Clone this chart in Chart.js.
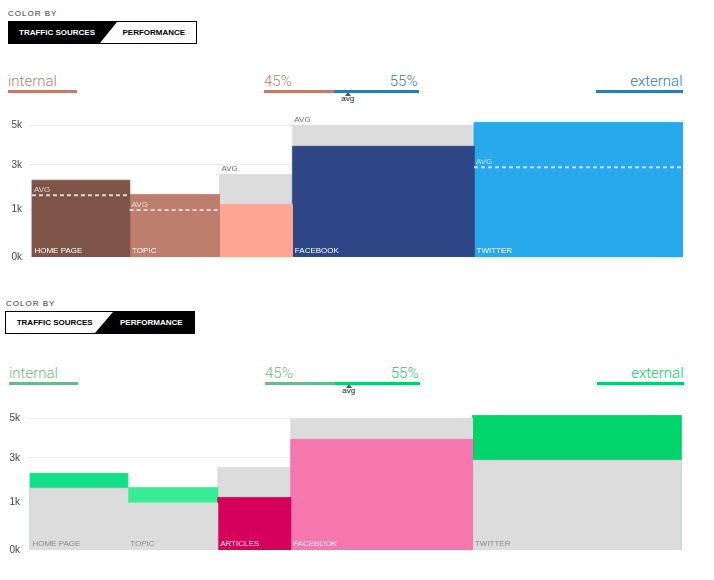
<!DOCTYPE html>
<html>
<head>
<meta charset="utf-8">
<script src="https://cdn.jsdelivr.net/npm/chart.js@4.4.1/dist/chart.umd.min.js"></script>
<style>
html,body{margin:0;padding:0;background:#fff;}
body{position:relative;width:714px;height:580px;overflow:hidden;font-family:"Liberation Sans",Arial,Helvetica,sans-serif;}
.t{position:absolute;white-space:nowrap;line-height:1;}
.colorby{letter-spacing:1px;}
.opt{font-weight:bold;}
.big{font-family:Roboto,"Liberation Sans",Arial,sans-serif;font-weight:300;}
.toggle{position:absolute;border:1px solid #000;box-sizing:border-box;background:#fff;overflow:hidden;}
.toggle .fill{position:absolute;left:0;top:0;right:0;bottom:0;background:#000;}
.rule{position:absolute;height:3px;}
.tri{position:absolute;width:0;height:0;border-left:3px solid transparent;border-right:3px solid transparent;border-bottom:4px solid #555;}
canvas{position:absolute;}
</style>
</head>
<body>
<script>
// ---------------- DATA ----------------
const categories = ['HOME PAGE', 'TOPIC', 'ARTICLES', 'FACEBOOK', 'TWITTER'];
const trafficShare = [15.0, 13.8, 11.2, 27.9, 32.1];      // share of traffic (bar widths, %)
const visitors = [2920, 2380, 2000, 4210, 5120];          // bar values
const averages = [2350, 1790, 3140, 5010, 3410];          // average values
const yTickValues = [0, 1800, 3500, 5000];
const yTickLabels = ['0k', '1k', '3k', '5k'];
const sourceLabels = ['internal', 'external'];
const sourceShares = [45, 55];
const avgInternalShare = 54;
const toggleLabels = ['TRAFFIC SOURCES', 'PERFORMANCE'];
const trafficLabelShown = [true, true, false, true, true];

// ---------------- STYLE ----------------
const trafficColors = ['#7e5449', '#be7e6e', '#ffa692', '#2e4686', '#27a7ec'];
const performanceColors = ['#14df86', '#38ec96', '#d5005c', '#f677ae', '#00d46b'];
const GRAY = '#dcdcdc';
const DASH = '#d9d9d9';
const PX_PER_UNIT = 0.0263;
const X_MIN = -0.3;

function addText(txt, cls, pos, baseline, fs, color) {
  const d = document.createElement('div');
  d.className = 't ' + cls;
  d.textContent = txt;
  d.style.fontSize = fs + 'px';
  d.style.top = (baseline - 0.846 * fs) + 'px';
  d.style.color = color;
  if (pos.left !== undefined) d.style.left = pos.left + 'px';
  if (pos.right !== undefined) d.style.right = (714 - pos.right) + 'px';
  if (pos.center !== undefined) { d.style.left = pos.center + 'px'; d.style.transform = 'translateX(-50%)'; }
  document.body.appendChild(d);
  return d;
}
function addRule(left, top, width, color) {
  const d = document.createElement('div');
  d.className = 'rule';
  d.style.left = left + 'px'; d.style.top = top + 'px'; d.style.width = width + 'px'; d.style.background = color;
  document.body.appendChild(d);
}
function addToggle(left, top, width, clip) {
  const b = document.createElement('div');
  b.className = 'toggle';
  b.style.left = left + 'px'; b.style.top = top + 'px'; b.style.width = width + 'px'; b.style.height = '23px';
  const f = document.createElement('div');
  f.className = 'fill';
  f.style.clipPath = clip;
  b.appendChild(f);
  document.body.appendChild(b);
}

function buildHeader(p) {
  addText('COLOR BY', 'colorby', {left: p.colorByX}, p.colorByBase, 8, '#333');
  addToggle(p.boxX, p.boxY, p.boxW, p.clip);
  addText(toggleLabels[0], 'opt', {left: p.opt0X}, p.optBase, 8, p.active === 0 ? '#fff' : '#000');
  addText(toggleLabels[1], 'opt', {left: p.opt1X}, p.optBase + 0.4, 8, p.active === 1 ? '#fff' : '#000');
}

function buildLegend(dx, dy, cInt, cExt) {
  addText(sourceLabels[0], 'big', {left: 8 + dx}, 87 + dy, 15, cInt);
  addRule(8 + dx, 89.5 + dy, 69, cInt);
  const barL = 264 + dx, barW = 155;
  const w0 = barW * sourceShares[0] / 100;
  addText(sourceShares[0] + '%', 'big', {left: barL}, 86.5 + dy, 15, cInt);
  addText(sourceShares[1] + '%', 'big', {right: barL + barW - 1.5}, 86.5 + dy, 15, cExt);
  addRule(barL, 89.5 + dy, w0, cInt);
  addRule(barL + w0, 89.5 + dy, barW - w0, cExt);
  const tri = document.createElement('div');
  tri.className = 'tri';
  tri.style.left = (barL + barW * avgInternalShare / 100 - 3) + 'px';
  tri.style.top = (91.5 + dy) + 'px';
  document.body.appendChild(tri);
  addText('avg', '', {center: barL + barW * avgInternalShare / 100}, 101.3 + dy, 8, '#222');
  addText(sourceLabels[1], 'big', {right: 682.5 + dx}, 87 + dy, 15, cExt);
  addRule(596 + dx, 89.5 + dy, 87, cExt);
}

// ---------------- CHARTS ----------------
const barLabels = {
  id: 'barLabels',
  afterDatasetsDraw(chart, args, opts) {
    const ctx = chart.ctx, xs = chart.scales.x, ys = chart.scales.y;
    const base = ys.getPixelForValue(0);
    ctx.save();
    ctx.font = '8px "Liberation Sans", Arial, sans-serif';
    ctx.textAlign = 'left';
    ctx.textBaseline = 'alphabetic';
    let cum = 0;
    categories.forEach((cat, i) => {
      const px0 = xs.getPixelForValue(cum);
      cum += trafficShare[i];
      const v = visitors[i], a = averages[i];
      if (opts.mode === 'traffic') {
        ctx.fillStyle = a > v ? '#6e6e6e' : 'rgba(255,255,255,0.72)';
        ctx.fillText('AVG', px0 + 2, ys.getPixelForValue(a) - 3.3);
        if (trafficLabelShown[i]) {
          ctx.fillStyle = '#ffffff';
          ctx.fillText(cat, px0 + 2.5, base - 4);
        }
      } else {
        ctx.fillStyle = v > a ? '#8a8a8a' : 'rgba(255,255,255,0.95)';
        ctx.fillText(cat, px0 + 2.5, base - 4);
      }
    });
    ctx.restore();
  }
};

// a filled bar: outline (x0,0)-(x0,v)-(x1,v)-(x1,0), filled to the origin
function rect(x0, x1, v, color, order) {
  return {type: 'line', data: [{x: x0, y: 0}, {x: x0, y: v}, {x: x1, y: v}, {x: x1, y: 0}],
    backgroundColor: color, borderColor: color, borderWidth: 0.8, borderCapStyle: 'butt',
    pointRadius: 0, pointHoverRadius: 0, fill: 'origin', order: order, tension: 0};
}
function dash(x0, x1, v, color, order) {
  return {type: 'line', data: [{x: x0, y: v}, {x: x1, y: v}], borderColor: color,
    borderWidth: 2, borderDash: [4, 3], borderCapStyle: 'butt', pointRadius: 0, pointHoverRadius: 0,
    fill: false, order: order, tension: 0};
}

function makeChart(mode, left, base) {
  const c = document.createElement('canvas');
  c.width = 684; c.height = 182;
  c.style.left = left + 'px'; c.style.top = '0px';
  document.body.appendChild(c);
  const datasets = [];
  let cum = 0;
  categories.forEach((cat, i) => {
    const x0 = cum, x1 = cum + trafficShare[i];
    cum = x1;
    const v = visitors[i], a = averages[i];
    if (mode === 'traffic') {
      const col = trafficColors[i];
      if (a > v) { datasets.push(rect(x0, x1, a, GRAY, 3)); datasets.push(rect(x0, x1, v, col, 2)); }
      else { datasets.push(rect(x0, x1, v, col, 2)); datasets.push(dash(x0, x1, a, DASH, 1)); }
    } else {
      const col = performanceColors[i];
      if (v > a) { datasets.push(rect(x0, x1, v, col, 3)); datasets.push(rect(x0, x1, a, GRAY, 2)); }
      else { datasets.push(rect(x0, x1, a, GRAY, 3)); datasets.push(rect(x0, x1, v, col, 2)); }
    }
  });
  const chart = new Chart(c, {
    type: 'line',
    data: {datasets: datasets},
    plugins: [barLabels],
    options: {
      responsive: false, animation: false, events: [],
      layout: {padding: 0},
      plugins: {legend: {display: false}, tooltip: {enabled: false}, barLabels: {mode: mode}},
      scales: {
        x: {type: 'linear', min: X_MIN, max: 100, display: false},
        y: {
          type: 'linear', min: 0, max: 6000,
          afterFit(s) { s.width = 30; },
          afterBuildTicks(s) { s.ticks = yTickValues.map(v => ({value: v})); },
          ticks: {padding: 8, color: '#444', font: {family: '"Liberation Sans", Arial, sans-serif', size: 10},
            callback: (v) => yTickLabels[yTickValues.indexOf(v)]},
          grid: {drawTicks: false, lineWidth: 1,
            color: (ctx) => (ctx.tick && ctx.tick.value === 0) ? 'rgba(0,0,0,0)' : '#ebebeb'},
          border: {display: false}
        }
      }
    }
  });
  const area = chart.chartArea;
  chart.options.scales.y.max = (area.bottom - area.top) / PX_PER_UNIT;
  chart.update('none');
  const p0 = chart.scales.y.getPixelForValue(0);
  c.style.top = Math.round(base - p0) + 'px';
  return chart;
}

buildHeader({colorByX: 8, colorByBase: 16.7, boxX: 8, boxY: 21, boxW: 189, active: 0,
  clip: 'polygon(0 0, 108px 0, 91px 100%, 0 100%)', opt0X: 19, opt1X: 122.5, optBase: 35.4});
buildHeader({colorByX: 6, colorByBase: 306.7, boxX: 5, boxY: 311, boxW: 190, active: 1,
  clip: 'polygon(107px 0, 100% 0, 100% 100%, 89px 100%)', opt0X: 16.7, opt1X: 120, optBase: 325.4});

buildLegend(0, 0, '#c27b6b', '#2d79c3');
buildLegend(1, 292, '#69bb80', '#00d26a');

makeChart('traffic', 0, 257);
makeChart('performance', -2, 550);
</script>
</body>
</html>
